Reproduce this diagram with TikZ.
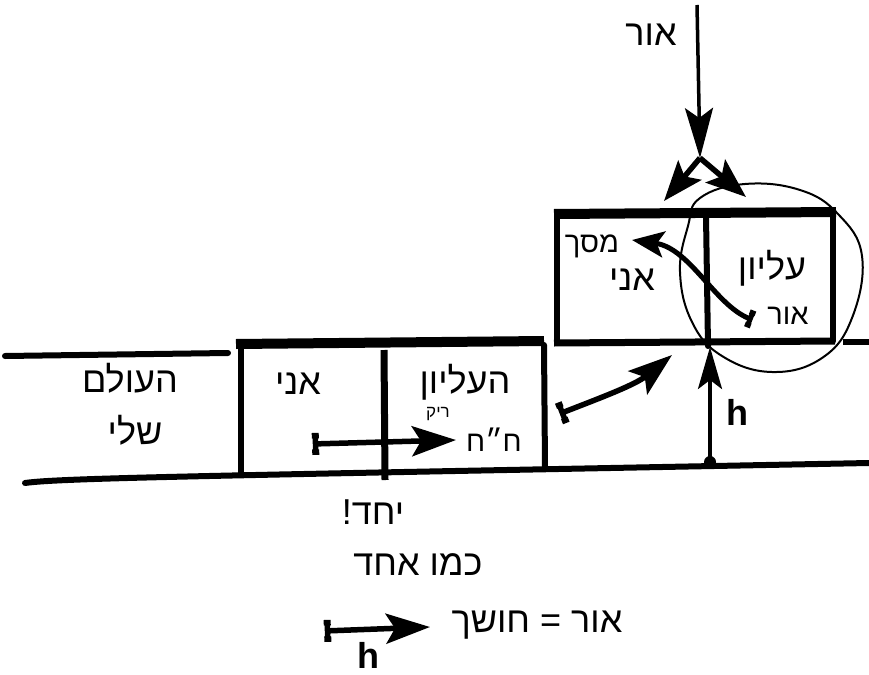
\documentclass[tikz,border=0pt]{standalone}
\usepackage{fontspec}
\setmainfont{Liberation Sans}
\newfontfamily\hebfont[Script=Hebrew]{Liberation Sans}
\TeXXeTstate=1
\usetikzlibrary{arrows.meta}
\tikzset{
  wall/.style={line width=6pt, line cap=round},
  bar/.style={line width=10pt},
  big/.style={font=\hebfont\fontsize{36}{38}\selectfont, inner sep=0pt},
  mid/.style={font=\hebfont\fontsize{29}{31}\selectfont, inner sep=0pt},
  small/.style={font=\hebfont\fontsize{17}{18}\selectfont, inner sep=0pt},
  hlab/.style={font=\fontsize{36}{38}\selectfont\bfseries, inner sep=0pt},
  head/.style={-{Stealth[length=40pt,width=30pt,inset=8pt]}},
  arr/.style={line width=5.5pt, head},
  arrt/.style={line width=5.5pt, {Tee Barb[width=22pt,length=7pt]}-{Stealth[length=44pt,width=30pt,inset=9pt]}},
}
\begin{document}
\begin{tikzpicture}[x=1pt,y=-1pt]
\useasboundingbox (0,0) rectangle (869,674);
% ground / ceiling lines
\coordinate (lt1) at (5,356); \coordinate (lt2) at (228,353);
\draw[wall] (lt1) -- (lt2);
\coordinate (gb1) at (25,483); \coordinate (gb2) at (869,463);
\draw[wall] (gb1) .. controls (60,478) and (200,476) .. (gb2);
% lower box
\coordinate (A1) at (236,344); \coordinate (A2) at (544,341);
\coordinate (A3) at (545,468); \coordinate (A4) at (241,474);
\draw[bar] (A1) -- (A2);
\draw[wall] (241,348) -- (A4);
\draw[wall] (544,345) -- (A3);
\coordinate (D1) at (384,350); \coordinate (D2) at (385,480);
\draw[line width=7pt] (D1) -- (D2);
% upper box
\coordinate (B1) at (554,214); \coordinate (B2) at (836,212);
\coordinate (B3) at (554,343); \coordinate (B4) at (835,341);
\draw[bar] (B1) -- (B2);
\draw[wall] (557,214) -- (557,343);
\draw[wall] (833,212) -- (833,341);
\draw[wall] (706,216) -- (708,346);
\draw[line width=7pt] (B3) -- (B4);
\coordinate (C1) at (843,342); \coordinate (C2) at (869,342);
\draw[line width=6pt] (C1) -- (C2);
% wavy circle
\draw[line width=2pt] plot[smooth cycle, tension=0.7] coordinates {
 (700,198) (745,184) (800,190) (838,214) (862,256) (852,318) (822,358)
 (772,372) (722,356) (692,322) (680,272) (688,226)};
% top arrow and fork
\coordinate (T0) at (697,5); \coordinate (T1) at (700,158);
\draw[line width=3.5pt, -{Stealth[length=50pt,width=28pt,inset=10pt]}] (T0) -- (T1);
\coordinate (F1) at (664,201); \coordinate (F2) at (746,197);
\draw[arr] (T1) -- (F1);
\draw[arr] (T1) -- (F2);
\node[big] (or1) at (651,35) {\beginR אור\endR};
% upper box curved arrow
\coordinate (U0) at (753,320); \coordinate (U1) at (632,240);
\draw[line width=5pt, {Tee Barb[width=18pt,length=6pt]}-{Stealth[length=32pt,width=26pt,inset=7pt]}]
  (U0) .. controls (715,305) and (690,248) .. (U1);
\node[mid] (masach) at (592,246) {\beginR מסך\endR};
\node[big] (ani2) at (632,280) {\beginR אני\endR};
\node[big] (elyon) at (772,268) {\beginR עליון\endR};
\node[mid] (or2) at (788,316) {\beginR אור\endR};
% middle curved arrow
\coordinate (M0) at (559,414); \coordinate (M1) at (672,355);
\draw[arrt] (M0) .. controls (600,398) and (635,385) .. (M1);
% h arrow
\coordinate (H0) at (710,462); \coordinate (H1) at (710,347);
\fill (H0) circle (6pt);
\draw[line width=3.5pt, -{Stealth[length=42pt,width=24pt,inset=9pt]}] (H0) -- (H1);
\node[hlab] (h1) at (737,412) {h};
% lower box texts
\node[big] (olam) at (130,378) {\beginR העולם\endR};
\node[big] (sheli) at (135,430) {\beginR שלי\endR};
\node[big] (ani1) at (298,384) {\beginR אני\endR};
\node[big] (haelyon) at (465,382) {\beginR העליון\endR};
\node[small] (reik) at (438,414) {\beginR ריק\endR};
\node[mid] (chch) at (494,440) {\beginR ח״ח\endR};
\coordinate (L0) at (312,444); \coordinate (L1) at (456,440);
\draw[arrt] (L0) -- (L1);
% bottom texts
\node[big] (yachad) at (373,512) {\beginR יחד!\endR};
\node[big] (kmo) at (418,565) {\beginR כמו אחד\endR};
\node[big] (oreq) at (537,625) {\beginR אור = חושך\endR};
\coordinate (N0) at (324,631); \coordinate (N1) at (430,627);
\draw[arrt] (N0) -- (N1);
\node[hlab] (h2) at (368,655) {h};
\end{tikzpicture}
\end{document}
